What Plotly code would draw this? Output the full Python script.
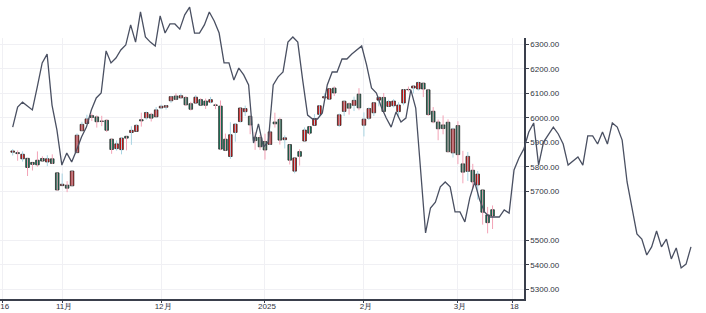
import plotly.graph_objects as go

# ---------------- data ----------------
dates = [
    "2024-10-18", "2024-10-21", "2024-10-22", "2024-10-23", "2024-10-24", "2024-10-25",
    "2024-10-28", "2024-10-29", "2024-10-30", "2024-10-31",
    "2024-11-01", "2024-11-04", "2024-11-05", "2024-11-06", "2024-11-07", "2024-11-08",
    "2024-11-11", "2024-11-12", "2024-11-13", "2024-11-14", "2024-11-15", "2024-11-18",
    "2024-11-19", "2024-11-20", "2024-11-21", "2024-11-22", "2024-11-25", "2024-11-26",
    "2024-11-27", "2024-11-29",
    "2024-12-02", "2024-12-03", "2024-12-04", "2024-12-05", "2024-12-06", "2024-12-09",
    "2024-12-10", "2024-12-11", "2024-12-12", "2024-12-13", "2024-12-16", "2024-12-17",
    "2024-12-18", "2024-12-19", "2024-12-20", "2024-12-23", "2024-12-24", "2024-12-26",
    "2024-12-27", "2024-12-30", "2024-12-31",
    "2025-01-02", "2025-01-03", "2025-01-06", "2025-01-07", "2025-01-08", "2025-01-10",
    "2025-01-13", "2025-01-14", "2025-01-15", "2025-01-16", "2025-01-17", "2025-01-21",
    "2025-01-22", "2025-01-23", "2025-01-24", "2025-01-27", "2025-01-28", "2025-01-29",
    "2025-01-30", "2025-01-31",
    "2025-02-03", "2025-02-04", "2025-02-05", "2025-02-06", "2025-02-07", "2025-02-10",
    "2025-02-11", "2025-02-12", "2025-02-13", "2025-02-14", "2025-02-18", "2025-02-19",
    "2025-02-20", "2025-02-21", "2025-02-24", "2025-02-25", "2025-02-26", "2025-02-27",
    "2025-02-28",
    "2025-03-03", "2025-03-04", "2025-03-05", "2025-03-06", "2025-03-07", "2025-03-10",
    "2025-03-11", "2025-03-12",
]

opens = [
    5859.4, 5857.8, 5832.7, 5834.5, 5817.8, 5826.8, 5833.9, 5819.7, 5832.7, 5775.3,
    5723.2, 5725.2, 5722.4, 5857.8, 5947.2, 5976.8, 6008.9, 6003.6, 5985.8, 5989.7,
    5912.8, 5874.2, 5870.2, 5924.4, 5940.0, 5944.4, 5992.3, 6000.0, 6014.1, 6004.0,
    6040.1, 6043.0, 6069.4, 6089.0, 6081.4, 6083.0, 6057.6, 6060.2, 6074.3, 6068.2,
    6063.8, 6052.6, 6047.7, 5912.7, 5842.0, 5940.3, 5984.6, 6025.0, 6006.2, 5920.7,
    5919.7,
    5903.3, 5891.1, 5982.8, 5993.3, 5910.7, 5890.7, 5782.3, 5862.0, 5905.2, 5964.0,
    5969.3, 6014.1, 6081.4, 6076.3, 6121.4, 5969.0, 6026.0, 6057.7, 6050.8, 6096.8,
    5969.7, 5998.1, 6020.5, 6072.2, 6083.1, 6046.4, 6049.3, 6025.1, 6060.6, 6115.5,
    6121.6, 6117.8, 6141.4, 6114.1, 6026.7, 5982.7, 5970.9, 5981.9, 5856.7,
    5968.3, 5812.0, 5781.4, 5785.9, 5726.0, 5705.4, 5603.7, 5624.8,
]

highs = [
    5872.2, 5866.9, 5863.0, 5834.9, 5817.8, 5862.8, 5842.9, 5847.2, 5850.9, 5775.3,
    5772.5, 5741.4, 5783.4, 5936.1, 5983.8, 6012.5, 6017.3, 6009.9, 6008.2, 5993.9,
    5915.3, 5908.1, 5920.7, 5924.4, 5965.5, 5972.9, 6020.8, 6025.4, 6020.2, 6044.2,
    6053.6, 6052.2, 6089.8, 6100.0, 6100.0, 6088.5, 6065.4, 6092.6, 6079.7, 6078.6,
    6085.2, 6057.7, 6070.7, 5935.5, 5982.1, 5978.3, 6040.1, 6049.8, 6006.2, 5940.8,
    5929.7,
    5935.1, 5949.3, 6021.0, 6000.7, 5927.9, 5890.7, 5836.6, 5871.9, 5960.6, 5964.7,
    6015.0, 6051.5, 6100.8, 6118.7, 6128.2, 6017.2, 6069.1, 6062.8, 6086.6, 6120.9,
    6022.1, 6042.5, 6062.9, 6084.0, 6101.3, 6073.4, 6076.3, 6063.6, 6116.9, 6127.5,
    6129.6, 6147.4, 6141.4, 6114.8, 6043.7, 5992.7, 6009.8, 5993.7, 5959.4,
    5986.1, 5865.1, 5860.6, 5812.1, 5783.0, 5705.4, 5636.3, 5642.2,
]

lows = [
    5846.1, 5824.8, 5821.2, 5762.4, 5784.9, 5800.0, 5823.1, 5802.7, 5811.3, 5702.9,
    5723.2, 5696.5, 5722.1, 5857.8, 5947.2, 5976.8, 5986.7, 5960.1, 5965.9, 5942.3,
    5853.0, 5866.0, 5850.9, 5867.1, 5889.7, 5944.4, 5963.9, 5992.3, 5984.9, 6004.0,
    6035.3, 6033.4, 6061.1, 6072.0, 6080.0, 6048.6, 6029.9, 6060.2, 6051.3, 6035.8,
    6059.1, 6035.2, 5867.8, 5866.1, 5832.3, 5902.6, 5981.4, 6007.4, 5933.0, 5869.2,
    5868.9,
    5829.5, 5888.7, 5960.0, 5890.7, 5874.8, 5809.4, 5773.3, 5805.0, 5905.2, 5930.0,
    5969.3, 6006.9, 6076.1, 6074.7, 6088.7, 5962.9, 6006.9, 6013.0, 6027.5, 6030.9,
    5923.9, 5990.9, 6007.1, 6046.8, 6020.0, 6044.8, 6042.3, 6003.0, 6051.0, 6107.6,
    6099.5, 6111.2, 6084.6, 6008.6, 5977.8, 5908.5, 5932.7, 5858.8, 5837.7,
    5810.9, 5732.6, 5742.4, 5711.6, 5666.3, 5564.0, 5528.4, 5546.1,
]

closes = [
    5864.7, 5854.0, 5851.2, 5797.4, 5809.9, 5808.1, 5823.5, 5832.9, 5813.7, 5705.5,
    5728.8, 5712.7, 5782.8, 5929.0, 5973.1, 5995.5, 6001.4, 5984.0, 5985.4, 5949.2,
    5870.6, 5893.6, 5917.0, 5917.1, 5948.7, 5969.3, 5987.4, 6021.6, 5998.7, 6032.4,
    6047.2, 6049.9, 6086.5, 6075.1, 6090.3, 6052.9, 6034.9, 6084.2, 6051.3, 6051.1,
    6074.1, 6050.6, 5872.2, 5867.1, 5930.9, 5974.1, 6040.0, 6037.6, 5970.8, 5906.9,
    5881.6,
    5868.6, 5942.5, 5975.4, 5909.0, 5918.3, 5827.0, 5836.2, 5842.9, 5949.9, 5937.3,
    5996.7, 6049.2, 6086.4, 6118.7, 6101.2, 6012.3, 6067.7, 6039.3, 6071.2, 6040.5,
    5994.6, 6037.9, 6061.5, 6083.6, 6026.0, 6066.4, 6068.5, 6052.0, 6115.1, 6114.6,
    6129.6, 6144.2, 6117.5, 6013.1, 5983.3, 5955.3, 5956.1, 5861.6, 5954.5,
    5849.7, 5778.2, 5842.6, 5738.5, 5770.2, 5614.6, 5572.1, 5599.3,
]

# time-scale slots (trading days) shown on the axis
axis_dates = ["2024-10-16", "2024-10-17"] + dates + ["2025-03-13", "2025-03-14", "2025-03-17", "2025-03-18"]
tick_dates = ["2024-10-16", "2024-11-01", "2024-12-02", "2025-01-02", "2025-02-03", "2025-03-03", "2025-03-18"]
tick_text = ["16", "11月", "12月", "2025", "2月", "3月", "18"]
y_ticks = [5300, 5400, 5500, 5700, 5800, 5900, 6000, 6100, 6200, 6300]

# overlay line (its own step scale)
line_values = [
    5962, 6044, 6064, 6048, 6032, 6126, 6224, 6260, 6052, 5950,
    5807, 5856, 5820, 5869, 5922, 5962, 6032, 6081, 6101, 6273,
    6224, 6244, 6277, 6297, 6379, 6309, 6432, 6330, 6309, 6293,
    6416, 6346, 6383, 6383, 6362, 6420, 6452, 6346, 6346, 6379,
    6432, 6395, 6346, 6224, 6224, 6154, 6203, 6175, 6134, 5897,
    5975, 5881, 5901, 6134, 6167, 6187, 6309, 6330, 6309, 6154,
    6011, 5995, 5995, 6020, 6134, 6187, 6187, 6240, 6240, 6260,
    6277, 6293, 6216, 6122, 6101, 6044, 5999, 5962, 6024, 5983,
    5999, 6114, 6040, 5787, 5530, 5632, 5656, 5718, 5738, 5718,
    5616, 5616, 5575, 5673, 5738, 5665, 5616, 5595, 5595, 5595,
    5624, 5611, 5787, 5836, 5873, 5942, 5979, 5807, 5901, 5930,
    5962, 5934, 5893, 5807, 5824, 5840, 5807, 5926, 5926, 5893,
    5942, 5893, 5979, 5962, 5909, 5738, 5632, 5526, 5505, 5440,
    5473, 5538, 5473, 5505, 5424, 5469, 5387, 5403, 5473,
]
line_steps = list(range(len(line_values)))

# ---------------- styles ----------------
RED = "#dc1010"
GREEN = "#15775a"
WICK_UP = "#a9d4e2"
WICK_DN = "#f3a3b6"
AXIS = "#3a3f4c"
GRID = "#f0f0f4"
W, H = 706, 313
AX_X = 524            # pixel of right price axis
SLOT = 4.947          # pixel width of a trading-day slot
FIRST_SLOT_PX = 2.8
PX_PER_UNIT = 0.245
Y_REF_PX, Y_REF_VAL = 44.3, 6300
PLOT_TOP, PLOT_BOT = 38, 299
LINE_START_PX, LINE_STEP_PX = 12.7, 4.915

up = [c >= o for o, c in zip(opens, closes)]


def wicks(flag):
    xs, ys = [], []
    for d, h, l, u in zip(dates, highs, lows, up):
        if u == flag:
            xs += [d, d, None]
            ys += [h, l, None]
    return xs, ys


fig = go.Figure()
for flag, col in ((True, WICK_UP), (False, WICK_DN)):
    wx, wy = wicks(flag)
    fig.add_trace(go.Scatter(x=wx, y=wy, mode="lines", line=dict(color=col, width=1),
                             hoverinfo="skip", showlegend=False))

fig.add_trace(go.Bar(
    x=dates,
    y=[max(abs(c - o), 1.2) for o, c in zip(opens, closes)],
    base=[min(o, c) for o, c in zip(opens, closes)],
    width=0.72,
    marker=dict(color=[RED if u else GREEN for u in up], line=dict(color="#262626", width=0.8)),
    showlegend=False,
))

fig.add_trace(go.Scatter(
    x=line_steps, y=line_values, xaxis="x2", yaxis="y2", mode="lines",
    line=dict(color="#4a5062", width=1.3), showlegend=False,
))

# axis ranges derived from pixel geometry
x0 = -FIRST_SLOT_PX / SLOT
x1 = x0 + AX_X / SLOT
y_of = lambda px: Y_REF_VAL - (px - Y_REF_PX) / PX_PER_UNIT
lx0 = -LINE_START_PX / LINE_STEP_PX
lx1 = lx0 + W / LINE_STEP_PX

font = dict(family="Arial, Liberation Sans, sans-serif", size=8, color="#2f3340")

fig.update_layout(
    width=W, height=H, autosize=False,
    margin=dict(l=0, r=0, t=0, b=0),
    paper_bgcolor="white", plot_bgcolor="rgba(0,0,0,0)",
    showlegend=False, barmode="overlay",
    font=font,
    xaxis=dict(
        type="category", categoryorder="array", categoryarray=axis_dates,
        domain=[0, AX_X / W], range=[x0, x1], anchor="y",
        tickmode="array", tickvals=tick_dates, ticktext=tick_text,
        showgrid=True, gridcolor=GRID, gridwidth=1,
        showline=True, linecolor=AXIS, linewidth=1.5,
        ticks="outside", ticklen=2, tickcolor=AXIS, tickfont=font,
        ticklabelstandoff=-3, ticklabelshift=2,
        zeroline=False, automargin=False, fixedrange=True,
    ),
    yaxis=dict(
        side="right", anchor="x",
        domain=[(H - PLOT_BOT) / H, (H - PLOT_TOP) / H],
        range=[y_of(PLOT_BOT), y_of(PLOT_TOP)],
        tickmode="array", tickvals=y_ticks, tickformat=".2f",
        showgrid=True, gridcolor=GRID, gridwidth=1,
        showline=True, linecolor=AXIS, linewidth=1.5,
        ticks="outside", ticklen=3, tickcolor=AXIS, tickfont=font,
        zeroline=False, automargin=False, fixedrange=True,
    ),
    xaxis2=dict(domain=[0, 1], range=[lx0, lx1], anchor="y2", visible=False, fixedrange=True),
    yaxis2=dict(domain=[0, 1], range=[y_of(H), y_of(0)], anchor="x2", visible=False, fixedrange=True),
)

fig.write_html("out.html")
